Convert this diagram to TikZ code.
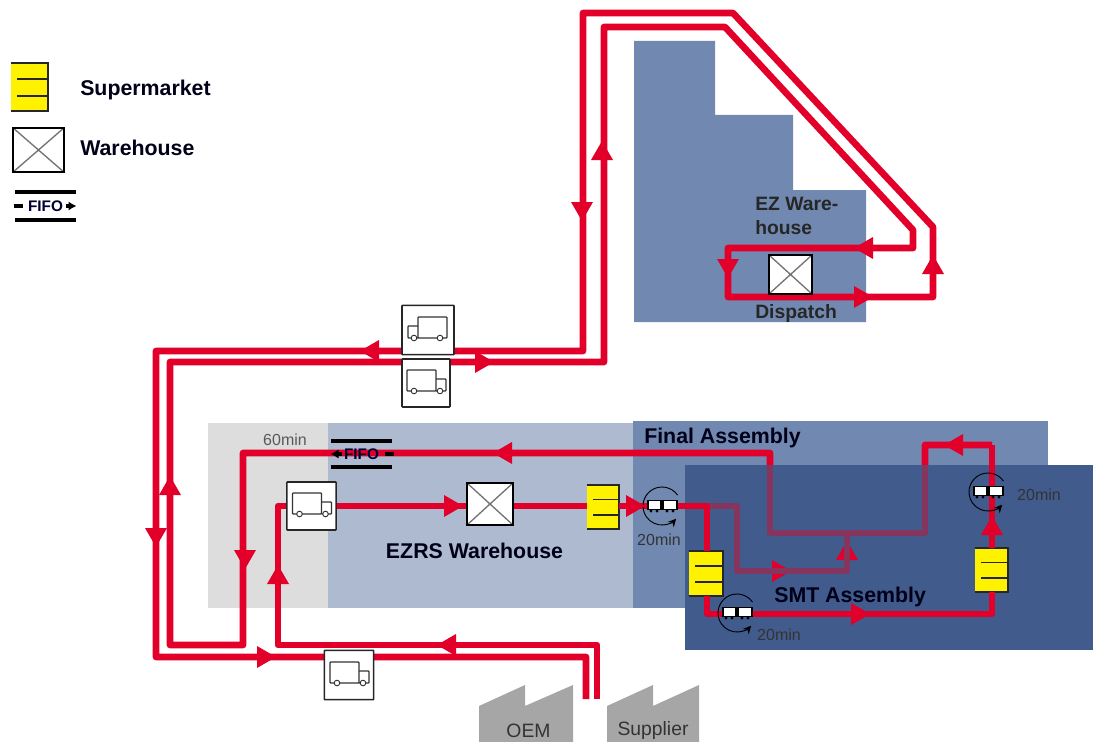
\documentclass[tikz,border=0pt]{standalone}
\usepackage{fontspec}
\setmainfont{Liberation Sans}
\usetikzlibrary{arrows.meta}
\usetikzlibrary{calc}
\definecolor{flowred}{HTML}{E2002A}
\definecolor{flowmauve}{HTML}{86355F}
\definecolor{zonegray}{HTML}{DDDDDD}
\definecolor{zonelight}{HTML}{AEBACF}
\definecolor{zonemid}{HTML}{7189B1}
\definecolor{zonedark}{HTML}{415B8D}
\definecolor{factorygray}{HTML}{A6A6A6}
\tikzset{
  flowline/.style={draw=flowred,line width=5pt,line join=round},
  mauveline/.style={flowline,draw=flowmauve},
  zonelabel/.style={font=\fontsize{16}{18}\selectfont\bfseries,text=black!90!blue,inner sep=0pt},
  smalllabel/.style={font=\fontsize{14.5}{16}\selectfont\bfseries,text=black!85,inner sep=0pt},
  timelabel/.style={font=\fontsize{12}{14}\selectfont,text=black!80,inner sep=0pt},
  plainlabel/.style={font=\fontsize{14.5}{16}\selectfont,text=black!80,inner sep=0pt},
  truckbox/.style={draw=black!85,fill=white,line width=1.2pt,rounded corners=0.5pt,inner sep=0pt},
  storebox/.style={draw=black,fill=white,line width=1.3pt,inner sep=0pt,
    path picture={\draw[black!55,line width=1pt]
      (path picture bounding box.north west) -- (path picture bounding box.south east)
      (path picture bounding box.north east) -- (path picture bounding box.south west);}},
  marketbox/.style={fill=yellow,inner sep=0pt},
  marketedge/.style={draw=black!85,line width=1.3pt},
  truckpic/.pic={
    \draw[black!80,line width=0.9pt,rounded corners=0.6pt] (-19,8) -- (-19,-13) -- (10,-13) -- (10,8) -- cycle;
    \draw[black!80,line width=0.9pt,rounded corners=0.6pt] (10,-4) -- (20,-4) -- (20,8) -- (10,8);
    \draw[black!80,fill=white,line width=0.7pt] (-12,8) circle (2.8);
    \draw[black!80,fill=white,line width=0.7pt] (14,8) circle (2.8);
  },
  cyclepic/.pic={
    \draw[black,line width=0.7pt,-{Stealth[length=6pt,width=6pt]}] (-35:19) arc (-35:-318:19);
    \fill[black] (-15,-6) rectangle (16,4);
    \fill[white] (-13,-5) rectangle (-2,3);
    \fill[white] (2,-5) rectangle (14,3);
    \foreach \wheelx in {-11,-5,5,11} \fill[black] (\wheelx,5) circle (1.6);
  },
  fifopic/.pic={
    \draw[black,line width=2.3pt] (-30.5,-14) -- (30.5,-14);
    \draw[black,line width=2.3pt] (-30.5,14) -- (30.5,14);
    \draw[black,line width=2.6pt] (-32,0) -- (-23,0);
    \draw[black,line width=2.6pt,-{Latex[length=6pt,width=7pt]}] (20,0) -- (31,0);
    \node[font=\fontsize{11.5}{12}\selectfont\bfseries,text=black!80!blue,inner sep=0pt] {FIFO};
  },
}
\newcommand{\flowtip}[2]{\fill[flowred,shift={(#1)},rotate=#2] (-9,-11) -- (10,0) -- (-9,11) -- cycle;}
\newcommand{\smarket}[4]{
  \node[marketbox,minimum width=#3*0.75pt,minimum height=#4*0.75pt] (#1) at (#2) {};
  \draw[marketedge] (#1.north west) -- (#1.north east) -- (#1.south east) -- (#1.south west);
  \draw[marketedge] ($(#1.north east)!0.33!(#1.south east)$) -- ($(#1.north west)!0.33!(#1.south west)+(6,0)$);
  \draw[marketedge] ($(#1.north east)!0.68!(#1.south east)$) -- ($(#1.north west)!0.68!(#1.south west)+(6,0)$);
}
\begin{document}
\begin{tikzpicture}[x=0.75pt,y=-0.75pt]
\useasboundingbox (0,0) rectangle (1093,742);

\fill[zonemid] (634,41) -- (715,41) -- (715,115) -- (793,115) -- (793,190) -- (866,190) -- (866,322) -- (634,322) -- cycle;
\fill[zonegray] (208,423) rectangle (328,608);
\fill[zonelight] (328,423) rectangle (633,608);
\fill[zonemid] (633,421) rectangle (1048,608);

\fill[factorygray] (479,742) -- (479,706) -- (525,685) -- (525,706) -- (573,685) -- (573,742) -- cycle;
\fill[factorygray] (607,742) -- (607,706) -- (653,685) -- (653,706) -- (699,685) -- (699,742) -- cycle;

\coordinate (oemOut) at (586,699);
\coordinate (supplierOut) at (597,699);
\coordinate (clockEntry) at (707,506);
\coordinate (cycleIn) at (662,506);
\coordinate (cycleMid) at (737,613);
\coordinate (cycleOut) at (988,492);

% long run from the plant to the final line
\draw[flowline] (oemOut) -- (586,657) -- (156,657) -- (156,351) -- (583,351) -- (583,13) -- (733,13)
  -- (933,227) -- (933,297) -- (728,297) -- (728,248) -- (913,248) -- (913,230) -- (725,27) -- (604,27)
  -- (604,362) -- (170,362) -- (170,645) -- (243,645) -- (243,453) -- (770,453) -- (770,533) -- (925,533)
  -- (925,445) -- (992,445);

\fill[zonedark] (685,465) rectangle (1093,650);

\begin{scope}
\clip (685,465) rectangle (1093,650);
\draw[mauveline] (770,453) -- (770,533) -- (925,533) -- (925,445);
\end{scope}
\flowtip{781,571}{0}
\flowtip{847,551}{90}
\draw[mauveline] (clockEntry) -- (737,506) -- (737,571) -- (847,571) -- (847,533);

\node[truckbox,minimum width=37pt,minimum height=36pt] (truckYard) at (311.5,506) {};
\node[storebox,minimum width=34.5pt,minimum height=31.5pt] (storeEzrs) at (490,504) {};
\node[storebox,minimum width=32pt,minimum height=29pt] (storeEz) at (790.5,274.5) {};
\smarket{marketEzrs}{603,507}{32}{44}
\smarket{marketIn}{706,573.5}{34}{45}
\smarket{marketOut}{991.5,570}{33}{44}

\draw[flowline] (supplierOut) -- (597,645) -- (278,645) -- (278,506) -- (truckYard.west);
\draw[flowline] (truckYard.east) -- (storeEzrs.west |- truckYard.east);
\draw[flowline] (storeEzrs.east |- truckYard.east) -- (marketEzrs.west |- truckYard.east);
\draw[flowline] (marketEzrs.east |- truckYard.east) -- (cycleIn);
\draw[flowline] (cycleIn) -- (clockEntry) -- (marketIn.north -| clockEntry);
\draw[flowline] (marketIn.south -| clockEntry) -- (707,614) -- (992,614) -- (992,592);
\draw[flowline] (992,548) -- (992,445);

\node[truckbox,minimum width=39pt,minimum height=37pt] (truckUp) at (428,330) {};
\node[truckbox,minimum width=36pt,minimum height=36pt] (truckDown) at (426,383) {};
\node[truckbox,minimum width=37pt,minimum height=37pt] (truckOem) at (349,675) {};
\pic[xscale=-1] at (truckUp) {truckpic};
\pic at (truckDown) {truckpic};
\pic at (truckYard) {truckpic};
\pic at (truckOem) {truckpic};
\pic at (cycleIn) {cyclepic};
\pic at (cycleMid) {cyclepic};
\pic at (cycleOut) {cyclepic};
\pic[xscale=-1,yscale=0.93] at (361.5,454) {fifopic};

\flowtip{602,151}{90}
\flowtip{582,211}{270}
\flowtip{864,248}{180}
\flowtip{728,268}{270}
\flowtip{863,297}{0}
\flowtip{933,265}{90}
\flowtip{370,351}{180}
\flowtip{484,362}{0}
\flowtip{170,486}{90}
\flowtip{156,537}{270}
\flowtip{245,559}{270}
\flowtip{278,575}{90}
\flowtip{266,657}{0}
\flowtip{447,645}{180}
\flowtip{503,453}{180}
\flowtip{453,506}{0}
\flowtip{635,506}{0}
\flowtip{954,445}{180}
\flowtip{992,526}{90}
\flowtip{860,614}{0}

\node[zonelabel,anchor=west] (labelFinal) at (644,438) {Final Assembly};
\node[zonelabel,anchor=west] (labelSmt) at (774,597) {SMT Assembly};
\node[zonelabel] (labelEzrs) at (474.5,551) {EZRS Warehouse};
\node[smalllabel,anchor=west] (labelEzA) at (755,204) {EZ Ware-};
\node[smalllabel,anchor=west] (labelEzB) at (755,228) {house};
\node[smalllabel,anchor=west] (labelDispatch) at (755,313) {Dispatch};
\node[plainlabel] (labelOem) at (528.5,730.5) {OEM};
\node[plainlabel] (labelSupplier) at (653,730) {Supplier};
\node[timelabel,text=black!65] (label60) at (285,440) {60min};
\node[timelabel] (label20a) at (659,540) {20min};
\node[timelabel] (label20b) at (779,635) {20min};
\node[timelabel] (label20c) at (1039,495) {20min};

\smarket{marketLegend}{29.5,87}{37}{48}
\node[storebox,minimum width=38pt,minimum height=33pt] (storeLegend) at (38.5,150) {};
\pic at (45.5,206) {fifopic};
\node[zonelabel,anchor=west] (labelMarket) at (80,90) {Supermarket};
\node[zonelabel,anchor=west] (labelStore) at (80,148) {Warehouse};
\end{tikzpicture}
\end{document}
